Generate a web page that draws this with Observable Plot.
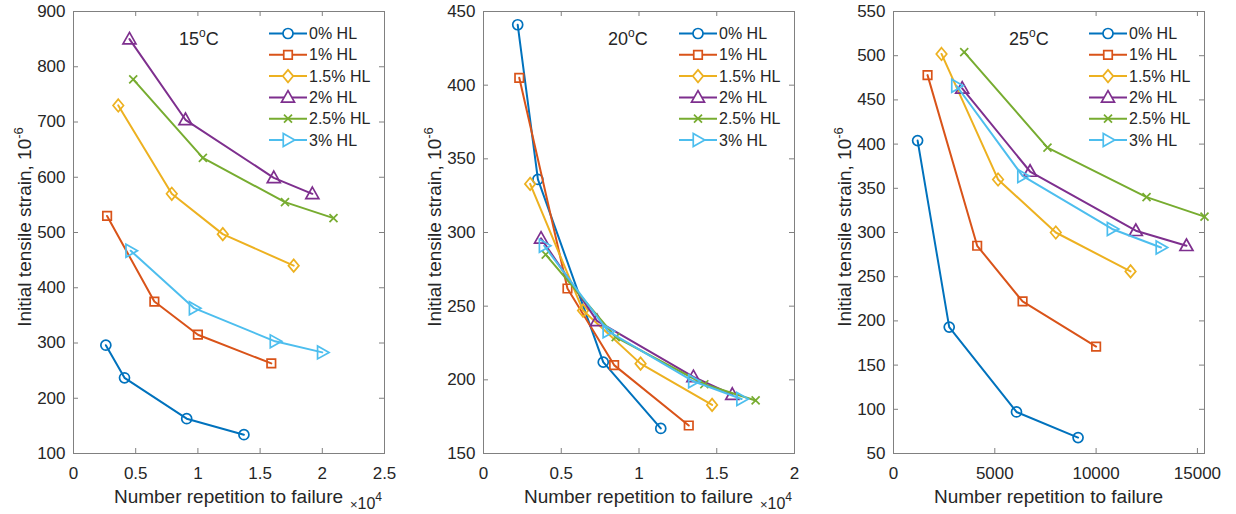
<!DOCTYPE html>
<html>
<head>
<meta charset="utf-8">
<script src="https://cdn.jsdelivr.net/npm/d3@7"></script>
<script src="https://cdn.jsdelivr.net/npm/@observablehq/plot@0.6"></script>
<style>
  html, body { margin: 0; padding: 0; background: #fff; }
  #row { display: flex; flex-direction: row; width: 1236px; height: 514px; }
  #row svg { display: block; }
</style>
</head>
<body>
<div id="row"></div>
<script>
// ---------- data ----------
const seriesNames = ["0% HL", "1% HL", "1.5% HL", "2% HL", "2.5% HL", "3% HL"];
const seriesColors = ["#0072BD", "#D95319", "#EDB120", "#7E2F8E", "#77AC30", "#4DBEEE"];

// 15 °C  (x in units of 10^4 repetitions)
const rep15 = [
  [0.26, 0.41, 0.91, 1.37],
  [0.27, 0.65, 1.00, 1.59],
  [0.36, 0.79, 1.20, 1.77],
  [0.45, 0.90, 1.61, 1.92],
  [0.48, 1.04, 1.70, 2.09],
  [0.46, 0.97, 1.62, 2.00]
];
const strain15 = [
  [296, 237, 163, 134],
  [530, 375, 315, 263],
  [730, 570, 497, 440],
  [850, 704, 599, 570],
  [777, 635, 555, 526],
  [467, 363, 303, 283]
];

// 20 °C  (x in units of 10^4 repetitions)
const rep20 = [
  [0.22, 0.35, 0.77, 1.14],
  [0.23, 0.54, 0.84, 1.32],
  [0.30, 0.64, 1.01, 1.47],
  [0.37, 0.73, 1.35, 1.60],
  [0.40, 0.85, 1.42, 1.75],
  [0.39, 0.80, 1.35, 1.66]
];
const strain20 = [
  [441, 336, 212, 167],
  [405, 262, 210, 169],
  [333, 247, 211, 183],
  [296, 240, 202, 190],
  [285, 229, 197, 186],
  [291, 233, 199, 187]
];

// 25 °C
const rep25 = [
  [1190, 2750, 6070, 9110],
  [1680, 4130, 6370, 10000],
  [2370, 5160, 8010, 11700],
  [3390, 6740, 11960, 14460],
  [3490, 7600, 12490, 15350],
  [3110, 6370, 10790, 13200]
];
const strain25 = [
  [404, 193, 97, 68],
  [478, 285, 222, 171],
  [502, 360, 300, 256],
  [463, 369, 302, 285],
  [504, 396, 340, 318],
  [466, 364, 304, 283]
];

const titles = ["15", "20", "25"];
const xDomains = [[0, 2.5], [0, 2], [0, 15350]];
const xTicks = [[0, 0.5, 1, 1.5, 2, 2.5], [0, 0.5, 1, 1.5, 2], [0, 5000, 10000, 15000]];
const yDomains = [[100, 900], [150, 450], [50, 550]];
const yTicks = [
  [100, 200, 300, 400, 500, 600, 700, 800, 900],
  [150, 200, 250, 300, 350, 400, 450],
  [50, 100, 150, 200, 250, 300, 350, 400, 450, 500, 550]
];
const xExponent = ["4", "4", null];

// ---------- marker symbols (MATLAB-like) ----------
const rad = s => Math.sqrt(s / Math.PI);
const symCircle = { draw(c, s) { const r = rad(s); c.moveTo(r, 0); c.arc(0, 0, r, 0, 2 * Math.PI); c.closePath(); } };
const symSquare = { draw(c, s) { const h = rad(s) * 0.85; c.rect(-h, -h, 2 * h, 2 * h); } };
const symDiamond = { draw(c, s) { const r = rad(s); const w = r * 1.05, h = r * 1.25; c.moveTo(0, -h); c.lineTo(w, 0); c.lineTo(0, h); c.lineTo(-w, 0); c.closePath(); } };
const symTriUp = { draw(c, s) { const r = rad(s); c.moveTo(0, -r * 1.35); c.lineTo(r * 1.3, r * 0.95); c.lineTo(-r * 1.3, r * 0.95); c.closePath(); } };
const symX = { draw(c, s) { const h = rad(s) * 0.8; c.moveTo(-h, -h); c.lineTo(h, h); c.moveTo(h, -h); c.lineTo(-h, h); } };
const symTriRight = { draw(c, s) { const r = rad(s); c.moveTo(r * 1.35, 0); c.lineTo(-r * 0.95, r * 1.3); c.lineTo(-r * 0.95, -r * 1.3); c.closePath(); } };
const symbols = [symCircle, symSquare, symDiamond, symTriUp, symX, symTriRight];

// ---------- layout ----------
const H = 514, MT = 11, MB = 61;
const panelWidths = [410, 410, 416];
const ML = 73, innerW = 311;
const titleDx = [106, 125, 116];
const frameColor = "#808080";
const textColor = "#262626";
const FONT = "'Liberation Sans', Arial, Helvetica, sans-serif";

const reps = [rep15, rep20, rep25];
const strains = [strain15, strain20, strain25];

const row = document.getElementById("row");

for (let p = 0; p < 3; p++) {
  const W = panelWidths[p];
  const MR = W - ML - innerW;
  const innerH = H - MT - MB;
  const rows = [];
  seriesNames.forEach((name, i) => {
    reps[p][i].forEach((x, j) => rows.push({ series: name, idx: i, x, y: strains[p][i][j] }));
  });

  const marks = [
    Plot.frame({ stroke: frameColor, strokeWidth: 1 }),
    Plot.tickX(xTicks[p], { x: d => d, insetTop: innerH - 5, stroke: frameColor }),
    Plot.tickX(xTicks[p], { x: d => d, insetBottom: innerH - 5, stroke: frameColor }),
    Plot.tickY(yTicks[p], { y: d => d, insetRight: innerW - 5, stroke: frameColor }),
    Plot.tickY(yTicks[p], { y: d => d, insetLeft: innerW - 5, stroke: frameColor }),
    Plot.axisX(xTicks[p], { tickSize: 0, tickPadding: 13, label: null, tickFormat: d => String(d), fill: textColor }),
    Plot.axisY(yTicks[p], { tickSize: 0, tickPadding: 8, label: null, tickFormat: d => String(d), fill: textColor })
  ];
  seriesNames.forEach((name, i) => {
    const d = rows.filter(r => r.idx === i);
    marks.push(Plot.line(d, { x: "x", y: "y", stroke: seriesColors[i], strokeWidth: 2 }));
    marks.push(Plot.dot(d, { x: "x", y: "y", stroke: seriesColors[i], fill: "none", symbol: symbols[i], r: 5, strokeWidth: 1.7 }));
  });

  const svgEl = Plot.plot({
    width: W, height: H,
    marginTop: MT, marginBottom: MB, marginLeft: ML, marginRight: MR,
    x: { domain: xDomains[p], label: null, axis: null },
    y: { domain: yDomains[p], label: null, axis: null },
    style: { fontFamily: FONT, fontSize: "17px", color: textColor, background: "white", overflow: "visible" },
    marks
  });
  row.appendChild(svgEl);

  const svg = d3.select(svgEl);
  const g = svg.append("g").attr("font-family", FONT).attr("fill", textColor);
  const right = ML + innerW;

  // x axis label
  g.append("text").attr("x", ML + innerW / 2).attr("y", 503).attr("text-anchor", "middle")
    .attr("font-size", 19).text("Number repetition to failure");
  if (xExponent[p]) {
    const t = g.append("text").attr("x", right - 2).attr("y", 509).attr("text-anchor", "end").attr("font-size", 16);
    t.append("tspan").attr("font-size", 13).text("\u00d7");
    t.append("tspan").text("10");
    t.append("tspan").attr("font-size", 12).attr("dy", -8).text(xExponent[p]);
  }
  // y axis label
  const yl = g.append("text").attr("transform", `translate(31,${MT + innerH / 2 - 5}) rotate(-90)`)
    .attr("text-anchor", "middle").attr("font-size", 19);
  yl.append("tspan").text("Initial tensile strain, 10");
  yl.append("tspan").attr("font-size", 13).attr("dy", -8).text("-6");

  // title
  const tt = g.append("text").attr("x", ML + titleDx[p]).attr("y", 45).attr("text-anchor", "start").attr("font-size", 18);
  tt.append("tspan").text(titles[p]);
  tt.append("tspan").attr("font-size", 12).attr("dy", -8).text("o");
  tt.append("tspan").attr("dy", 8).text("C");

  // legend
  const lg = svg.append("g");
  seriesNames.forEach((name, i) => {
    const yy = MT + 22.5 + i * 21.3;
    const x0 = right - 115, x1 = right - 77, xm = right - 96;
    lg.append("line").attr("x1", x0).attr("x2", x1).attr("y1", yy).attr("y2", yy)
      .attr("stroke", seriesColors[i]).attr("stroke-width", 2);
    lg.append("path").attr("d", d3.symbol(symbols[i], 25 * Math.PI)())
      .attr("transform", `translate(${xm},${yy})`)
      .attr("fill", "white").attr("stroke", seriesColors[i]).attr("stroke-width", 1.7);
    lg.append("text").attr("x", right - 75).attr("y", yy).attr("dy", "0.35em").attr("text-anchor", "start")
      .attr("font-family", FONT).attr("font-size", 16).attr("fill", textColor).text(name);
  });
}
</script>
</body>
</html>
